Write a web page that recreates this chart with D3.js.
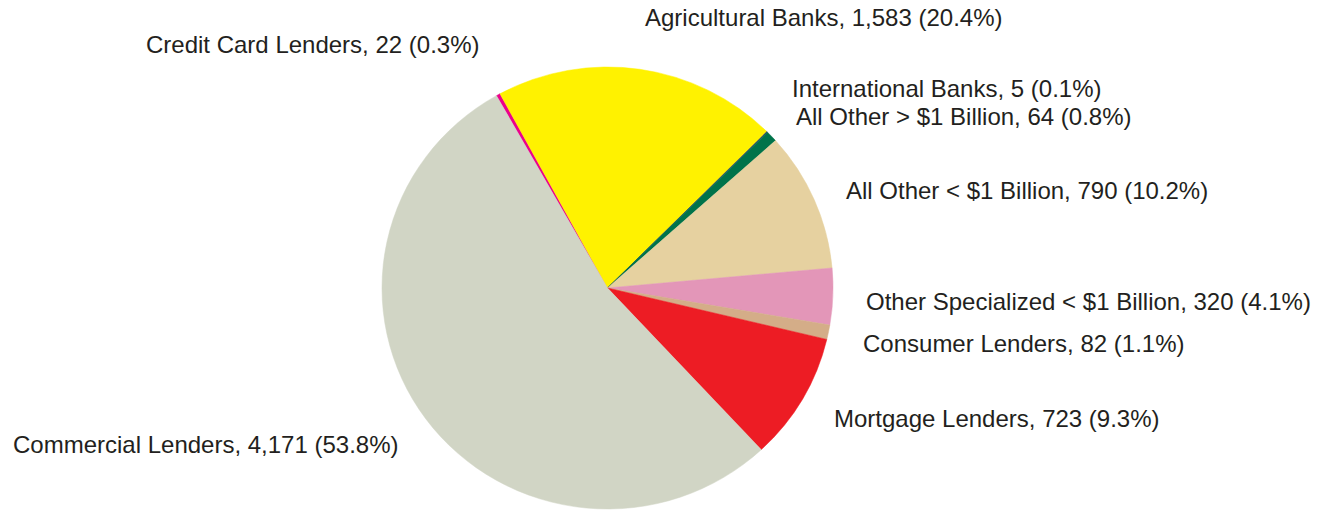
<!DOCTYPE html>
<html>
<head>
<meta charset="utf-8">
<script src="https://cdn.jsdelivr.net/npm/d3@7"></script>
<style>
  html, body { margin: 0; padding: 0; background: #ffffff; }
  svg { display: block; }
  text { font-family: "Liberation Sans", Arial, sans-serif; }
</style>
</head>
<body>
<svg id="chart" width="1327" height="510"></svg>
<script>
// ---- data ----
const categories = [
  "Credit Card Lenders",
  "Agricultural Banks",
  "International Banks",
  "All Other > $1 Billion",
  "All Other < $1 Billion",
  "Other Specialized < $1 Billion",
  "Consumer Lenders",
  "Mortgage Lenders",
  "Commercial Lenders"
];
const counts = [22, 1583, 5, 64, 790, 320, 82, 723, 4171];
const percents = ["0.3%", "20.4%", "0.1%", "0.8%", "10.2%", "4.1%", "1.1%", "9.3%", "53.8%"];
const colors = ["#ec008c", "#fff200", "#2b3f6b", "#00734a", "#e6d1a0", "#e396b8", "#d4ad88", "#ed1c24", "#d1d5c5"];

// ---- layout (label anchors, not data) ----
const labelAnchors = [
  [146, 53], [645, 26], [792, 97], [796, 125], [846, 199],
  [866, 310], [863, 352], [834, 427], [13, 453]
];

const svg = d3.select("#chart");
const cx = 607.5, cy = 288, r = 221, sx = 1.0204;

const rows = categories.map((c, i) => ({ name: c, value: counts[i], pct: percents[i], color: colors[i], anchor: labelAnchors[i] }));

const startA = -29.5 * Math.PI / 180;
const pie = d3.pie().value(d => d.value).sort(null)
  .startAngle(startA).endAngle(startA + 2 * Math.PI);
const arc = d3.arc().innerRadius(0).outerRadius(r);

const g = svg.append("g").attr("transform", `translate(${cx},${cy}) scale(${sx},1)`);
g.selectAll("path").data(pie(rows)).join("path")
  .attr("d", arc)
  .attr("fill", d => d.data.color)
  .attr("stroke", d => d.data.color)
  .attr("stroke-width", 0.5);

const fmt = d3.format(",");
svg.selectAll("text.lbl").data(rows).join("text")
  .attr("class", "lbl")
  .attr("x", d => d.anchor[0])
  .attr("y", d => d.anchor[1])
  .attr("font-size", 24)
  .attr("fill", "#231f20")
  .text(d => `${d.name}, ${fmt(d.value)} (${d.pct})`);
</script>
</body>
</html>
